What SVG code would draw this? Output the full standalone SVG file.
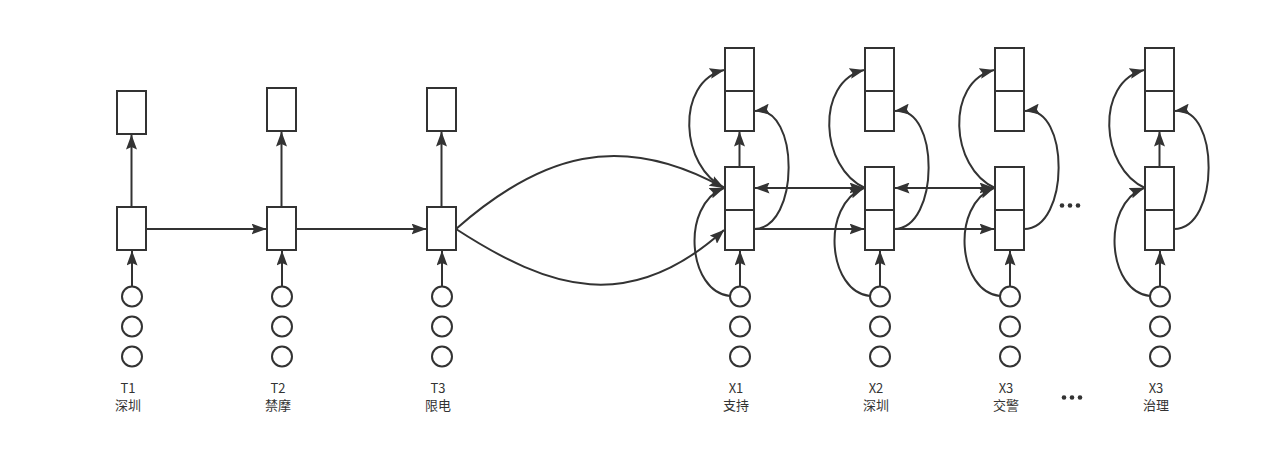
<svg xmlns="http://www.w3.org/2000/svg" width="1267" height="449" viewBox="0 0 1267 449">
<style>
.box{fill:#fff;stroke:#333;stroke-width:2}
.c{fill:#fff;stroke:#333;stroke-width:2}
.ln{fill:none;stroke:#333;stroke-width:2;marker-end:url(#ah)}
.bi{marker-start:url(#ah)}
.t{font-family:"Noto Sans CJK SC","Liberation Sans",sans-serif;font-size:13px;fill:#333;text-anchor:middle}
.dot{fill:#333}
</style>
<defs>
<marker id="ah" markerUnits="userSpaceOnUse" markerWidth="15" markerHeight="11" refX="14.5" refY="5.5" orient="auto-start-reverse">
<path d="M0,0 L15,5.5 L0,11 L2.5,5.5 z" fill="#333"/>
</marker>
</defs>
<rect width="1267" height="449" fill="#fff"/>
<g id="connectors">
<!-- encoder -->
<line class="ln" x1="131.5" y1="207" x2="131.5" y2="135"/>
<line class="ln" x1="132" y1="286" x2="132" y2="251"/>
<line class="ln" x1="146" y1="229" x2="266" y2="229"/>
<line class="ln" x1="281.5" y1="207" x2="281.5" y2="132"/>
<line class="ln" x1="282" y1="286" x2="282" y2="251"/>
<line class="ln" x1="296" y1="229" x2="426" y2="229"/>
<line class="ln" x1="441.5" y1="207" x2="441.5" y2="132"/>
<line class="ln" x1="442" y1="286" x2="442" y2="251"/>
<!-- encoder to decoder -->
<path class="ln" d="M456,229 C540,155 620,130 724,188"/>
<path class="ln" d="M456,229 C550,290 630,315 724,230"/>
<!-- X1 -->
<line class="ln" x1="739.5" y1="167" x2="739.5" y2="132"/>
<line class="ln" x1="740" y1="286" x2="740" y2="251"/>
<path class="ln" d="M730,296 C688,292 680,205 724,188"/>
<path class="ln" d="M725,188 C680,168 675,82 724,70"/>
<path class="ln" d="M754,229 C800,229 800,105 755,111"/>
<!-- X2 -->
<line class="ln" x1="880" y1="286" x2="880" y2="251"/>
<path class="ln" d="M870,296 C828,292 820,205 864,188"/>
<path class="ln" d="M865,188 C820,168 815,82 864,70"/>
<path class="ln" d="M894,229 C940,229 940,105 895,111"/>
<!-- X3 -->
<line class="ln" x1="1010" y1="286" x2="1010" y2="251"/>
<path class="ln" d="M1000,296 C958,292 950,205 994,188"/>
<path class="ln" d="M995,188 C950,168 945,82 994,70"/>
<path class="ln" d="M1024,229 C1070,229 1070,105 1025,111"/>
<!-- X last -->
<line class="ln" x1="1159.5" y1="167" x2="1159.5" y2="132"/>
<line class="ln" x1="1160" y1="286" x2="1160" y2="251"/>
<path class="ln" d="M1150,296 C1108,292 1100,205 1144,188"/>
<path class="ln" d="M1145,188 C1100,168 1095,82 1144,70"/>
<path class="ln" d="M1174,229 C1220,229 1220,105 1175,111"/>
<!-- horizontal decoder -->
<line class="ln bi" x1="755" y1="188" x2="864" y2="188"/>
<line class="ln" x1="754" y1="229" x2="864" y2="229"/>
<line class="ln bi" x1="895" y1="188" x2="994" y2="188"/>
<line class="ln" x1="894" y1="229" x2="994" y2="229"/>
</g>
<g id="T1">
<rect class="box" x="117" y="91" width="29" height="43"/>
<rect class="box" x="117" y="207" width="29" height="43"/>
<circle class="c" cx="132" cy="296.5" r="10"/>
<circle class="c" cx="132" cy="326.5" r="10"/>
<circle class="c" cx="132" cy="356.5" r="10"/>
<text class="t" x="128" y="393">T1</text>
<text class="t" x="128" y="410">深圳</text>
</g>
<g id="T2">
<rect class="box" x="267" y="88" width="29" height="43"/>
<rect class="box" x="267" y="207" width="29" height="43"/>
<circle class="c" cx="282" cy="296.5" r="10"/>
<circle class="c" cx="282" cy="326.5" r="10"/>
<circle class="c" cx="282" cy="356.5" r="10"/>
<text class="t" x="278" y="393">T2</text>
<text class="t" x="278" y="410">禁摩</text>
</g>
<g id="T3">
<rect class="box" x="427" y="88" width="29" height="43"/>
<rect class="box" x="427" y="207" width="29" height="43"/>
<circle class="c" cx="442" cy="296.5" r="10"/>
<circle class="c" cx="442" cy="326.5" r="10"/>
<circle class="c" cx="442" cy="356.5" r="10"/>
<text class="t" x="438" y="393">T3</text>
<text class="t" x="438" y="410">限电</text>
</g>
<g id="X1">
<rect class="box" x="725" y="48" width="29" height="83"/>
<line x1="725" y1="91" x2="754" y2="91" stroke="#333" stroke-width="2"/>
<rect class="box" x="725" y="167" width="29" height="83"/>
<line x1="725" y1="210" x2="754" y2="210" stroke="#333" stroke-width="2"/>
<circle class="c" cx="740" cy="296.5" r="10"/>
<circle class="c" cx="740" cy="326.5" r="10"/>
<circle class="c" cx="740" cy="356.5" r="10"/>
<text class="t" x="736" y="393">X1</text>
<text class="t" x="736" y="410">支持</text>
</g>
<g id="X2">
<rect class="box" x="865" y="48" width="29" height="83"/>
<line x1="865" y1="91" x2="894" y2="91" stroke="#333" stroke-width="2"/>
<rect class="box" x="865" y="167" width="29" height="83"/>
<line x1="865" y1="210" x2="894" y2="210" stroke="#333" stroke-width="2"/>
<circle class="c" cx="880" cy="296.5" r="10"/>
<circle class="c" cx="880" cy="326.5" r="10"/>
<circle class="c" cx="880" cy="356.5" r="10"/>
<text class="t" x="876" y="393">X2</text>
<text class="t" x="876" y="410">深圳</text>
</g>
<g id="X3">
<rect class="box" x="995" y="48" width="29" height="83"/>
<line x1="995" y1="91" x2="1024" y2="91" stroke="#333" stroke-width="2"/>
<rect class="box" x="995" y="167" width="29" height="83"/>
<line x1="995" y1="210" x2="1024" y2="210" stroke="#333" stroke-width="2"/>
<circle class="c" cx="1010" cy="296.5" r="10"/>
<circle class="c" cx="1010" cy="326.5" r="10"/>
<circle class="c" cx="1010" cy="356.5" r="10"/>
<text class="t" x="1006" y="393">X3</text>
<text class="t" x="1006" y="410">交警</text>
</g>
<g id="X4">
<rect class="box" x="1145" y="48" width="29" height="83"/>
<line x1="1145" y1="91" x2="1174" y2="91" stroke="#333" stroke-width="2"/>
<rect class="box" x="1145" y="167" width="29" height="83"/>
<line x1="1145" y1="210" x2="1174" y2="210" stroke="#333" stroke-width="2"/>
<circle class="c" cx="1160" cy="296.5" r="10"/>
<circle class="c" cx="1160" cy="326.5" r="10"/>
<circle class="c" cx="1160" cy="356.5" r="10"/>
<text class="t" x="1156" y="393">X3</text>
<text class="t" x="1156" y="410">治理</text>
</g>
<g id="ellipsis">
<circle class="dot" cx="1062" cy="205.5" r="2.3"/>
<circle class="dot" cx="1070" cy="205.5" r="2.3"/>
<circle class="dot" cx="1078" cy="205.5" r="2.3"/>
<circle class="dot" cx="1064" cy="397.5" r="2.3"/>
<circle class="dot" cx="1072" cy="397.5" r="2.3"/>
<circle class="dot" cx="1080" cy="397.5" r="2.3"/>
</g>
</svg>
